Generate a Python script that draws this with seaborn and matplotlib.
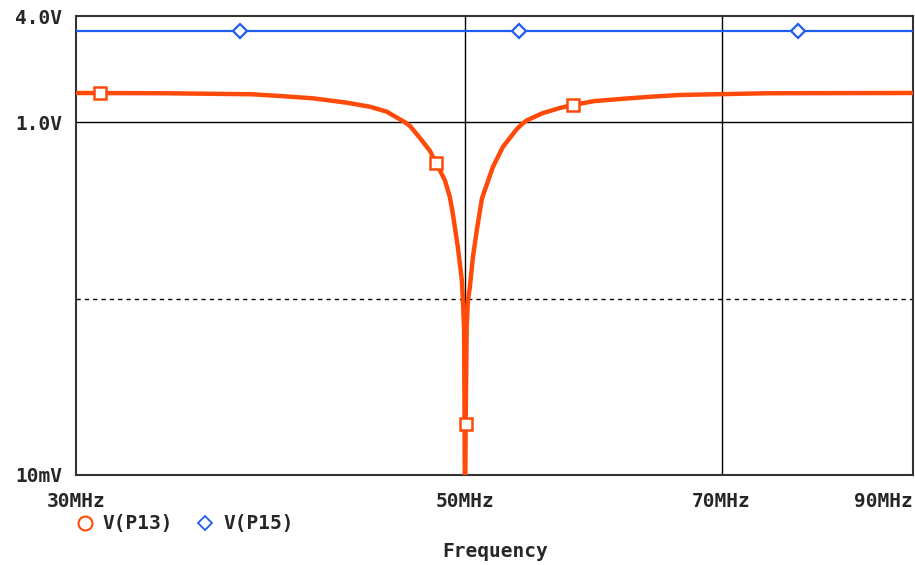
import numpy as np
import pandas as pd

import matplotlib
matplotlib.use("Agg")
import matplotlib.pyplot as plt
from matplotlib.lines import Line2D
from matplotlib.ticker import NullLocator
import seaborn as sns

# ==========================================
# DATA
# ==========================================

# V(P13) - notch response around 50 MHz
p13_freq = [30.0, 33.72, 37.79, 39.20, 40.94, 42.80, 44.12, 45.11, 45.89, 46.19,
            46.49, 47.11, 47.73, 48.11, 48.68, 49.00, 49.19, 49.52, 49.78, 49.85,
            49.93, 49.99, 50.03, 50.10, 50.18, 50.31, 50.51, 50.77, 51.11, 51.85,
            52.54, 53.51, 53.93, 54.22, 55.37, 56.62, 57.59, 59.28, 61.67, 63.73,
            66.29, 74.31, 90.0]
p13_volt = [1.464, 1.459, 1.440, 1.408, 1.366, 1.290, 1.224, 1.147, 1.039, 1.0,
            0.955, 0.815, 0.690, 0.590, 0.470, 0.378, 0.305, 0.196, 0.1275, 0.098,
            0.066, 0.005, 0.0195, 0.07, 0.098, 0.1164, 0.172, 0.245, 0.369, 0.557,
            0.725, 0.915, 0.985, 1.025, 1.127, 1.204, 1.252, 1.319, 1.36, 1.394,
            1.427, 1.459, 1.464]

# V(P15) - flat
p15_freq = [30.0, 90.0]
p15_volt = [3.29, 3.29]

# trace markers
p13_mark_freq = [30.96, 48.11, 50.03, 57.59]
p13_mark_volt = [1.464, 0.590, 0.0195, 1.252]
p15_mark_freq = [37.21, 53.67, 77.39]
p15_mark_volt = [3.29, 3.29, 3.29]

x_ticks = [30, 50, 70, 90]
x_tick_labels = ["30MHz", "50MHz", "70MHz", "90MHz"]
y_ticks = [0.01, 1.0, 4.0]
y_tick_labels = ["10mV", "1.0V", "4.0V"]

ORANGE = "#ff4a0a"
BLUE = "#1f5cf0"

# ==========================================
# PLOT
# ==========================================

sns.set_style("white")
plt.rcParams['font.family'] = ['DejaVu Sans Mono']
plt.rcParams['font.weight'] = 'bold'

df = pd.concat([
    pd.DataFrame({'freq': p13_freq, 'volt': p13_volt, 'trace': 'V(P13)'}),
    pd.DataFrame({'freq': p15_freq, 'volt': p15_volt, 'trace': 'V(P15)'}),
])

fig = plt.figure(figsize=(9.15, 5.65), dpi=100)
ax = fig.add_axes([76/915, 90/565, 837/915, 459/565])

ax.set_xscale('log')
ax.set_yscale('log')

# grid lines
ax.axhline(1.0, color='black', lw=1, zorder=1)
ax.axhline(0.1, color='black', lw=1, ls=(0, (3, 3)), zorder=1)
ax.axvline(50, color='black', lw=1, zorder=1)
ax.axvline(70, color='black', lw=1, zorder=1)

sns.lineplot(
    data=df,
    x='freq',
    y='volt',
    hue='trace',
    palette={'V(P13)': ORANGE, 'V(P15)': BLUE},
    size='trace',
    sizes={'V(P13)': 3.2, 'V(P15)': 1.6},
    estimator=None,
    legend=False,
    ax=ax,
    zorder=3
)

ax.plot(p13_mark_freq, p13_mark_volt, ls='none', marker='s', ms=9,
        mfc='white', mec=ORANGE, mew=1.8, zorder=4)
ax.plot(p15_mark_freq, p15_mark_volt, ls='none', marker='D', ms=7,
        mfc='white', mec=BLUE, mew=1.6, zorder=4)

ax.set_xlim(30, 90)
ax.set_ylim(0.01, 4.0)

ax.set_xticks(x_ticks)
ax.set_xticklabels(x_tick_labels)
ax.set_yticks(y_ticks)
ax.set_yticklabels(y_tick_labels)
ax.xaxis.set_minor_locator(NullLocator())
ax.yaxis.set_minor_locator(NullLocator())
ax.get_xticklabels()[-1].set_ha('right')

ax.tick_params(axis='x', direction='out', length=6.5, width=1.2,
               color='#333333', labelsize=14, pad=6)
ax.tick_params(axis='y', direction='out', length=6.5, width=1.2,
               color='#333333', labelsize=14, pad=3.6)

for spine in ax.spines.values():
    spine.set_visible(True)
    spine.set_color('#333333')
    spine.set_linewidth(1.5)

ax.set_xlabel("Frequency", fontsize=14, fontweight='bold')
ax.set_ylabel("")
ax.xaxis.set_label_coords(0.5006, -0.1656)
ax.xaxis.label.set_va('center')

# legend
handles = [
    Line2D([], [], ls='none', marker='o', ms=10, mfc='white', mec=ORANGE,
           mew=1.5, label='V(P13)'),
    Line2D([], [], ls='none', marker='D', ms=7.5, mfc='white', mec=BLUE,
           mew=1.3, label='V(P15)'),
]
fig.legend(
    handles=handles,
    loc='center left',
    bbox_to_anchor=(75/915, 1 - 524/565),
    ncol=2,
    frameon=False,
    borderaxespad=0,
    borderpad=0,
    handlelength=1.0,
    handletextpad=0.43,
    columnspacing=1.15,
    prop={'size': 14, 'weight': 'bold'}
)

fig.savefig("out.png", dpi=100)
